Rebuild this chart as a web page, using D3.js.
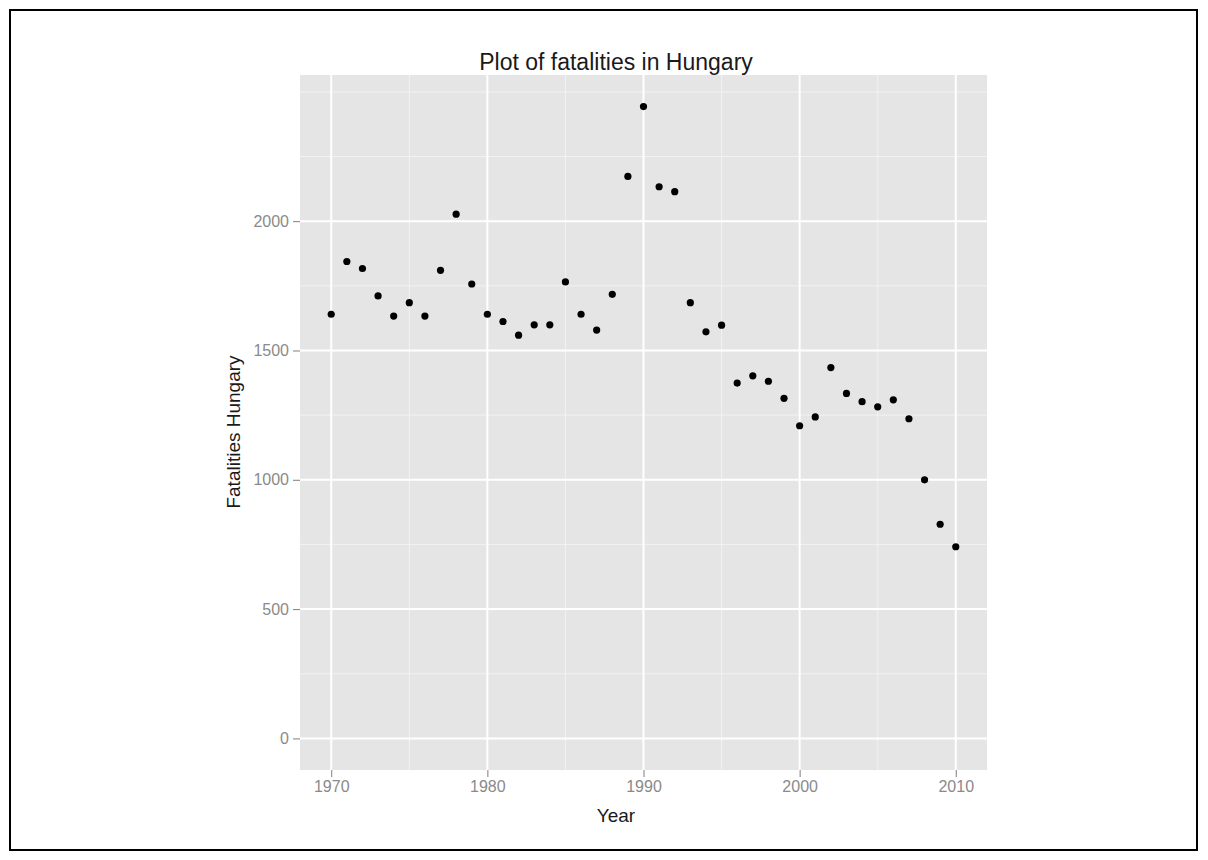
<!DOCTYPE html>
<html>
<head>
<meta charset="utf-8">
<script src="https://cdn.jsdelivr.net/npm/d3@7"></script>
<style>
  body { margin: 0; background: #fff; }
  text { font-family: Arial, "Liberation Sans", sans-serif; }
</style>
</head>
<body>
<div id="chart"></div>
<script>
const years = [1970, 1971, 1972, 1973, 1974, 1975, 1976, 1977, 1978, 1979,
               1980, 1981, 1982, 1983, 1984, 1985, 1986, 1987, 1988, 1989,
               1990, 1991, 1992, 1993, 1994, 1995, 1996, 1997, 1998, 1999,
               2000, 2001, 2002, 2003, 2004, 2005, 2006, 2007, 2008, 2009, 2010]
const fatalities = [1640, 1844, 1817, 1711, 1633, 1685, 1633, 1810, 2027, 1757,
                    1640, 1612, 1559, 1599, 1599, 1765, 1640, 1579, 1717, 2173,
                    2443, 2133, 2114, 1685, 1572, 1598, 1374, 1402, 1381, 1315,
                    1209, 1243, 1434, 1334, 1302, 1282, 1309, 1236, 1000, 828, 741]
const xTicks = [1970, 1980, 1990, 2000, 2010]
const xMinor = [1975, 1985, 1995, 2005]
const yTicks = [0, 500, 1000, 1500, 2000]
const yMinor = [250, 750, 1250, 1750, 2250, 2500]

const width = 1208
const height = 860
const panel = { left: 300, right: 987, top: 75, bottom: 770 }

const svg = d3.select('#chart')
              .append('svg')
              .attr('width', width)
              .attr('height', height)

// outer frame of the screenshot
svg.append('rect')
    .attr('x', 10)
    .attr('y', 10)
    .attr('width', 1187)
    .attr('height', 840)
    .attr('fill', 'none')
    .attr('stroke', '#000')
    .attr('stroke-width', 2)

// ggplot style limits: 0..max, expanded by 5%
const yMax = d3.max(fatalities)
const yPad = yMax * 0.05
const x = d3.scaleLinear().domain([1968, 2012]).range([panel.left, panel.right])
const y = d3.scaleLinear().domain([-yPad, yMax + yPad]).range([panel.bottom, panel.top])

svg.append('rect')
    .attr('x', panel.left)
    .attr('y', panel.top)
    .attr('width', panel.right - panel.left)
    .attr('height', panel.bottom - panel.top)
    .attr('fill', '#e5e5e5')

// minor grid
svg.selectAll('.xminor')
    .data(xMinor)
    .enter()
    .append('line')
    .attr('x1', d => x(d)).attr('x2', d => x(d))
    .attr('y1', panel.top).attr('y2', panel.bottom)
    .attr('stroke', '#f2f2f2')
    .attr('stroke-width', 1)

svg.selectAll('.yminor')
    .data(yMinor)
    .enter()
    .append('line')
    .attr('x1', panel.left).attr('x2', panel.right)
    .attr('y1', d => y(d)).attr('y2', d => y(d))
    .attr('stroke', '#f2f2f2')
    .attr('stroke-width', 1)

// major grid
svg.selectAll('.xmajor')
    .data(xTicks)
    .enter()
    .append('line')
    .attr('x1', d => x(d)).attr('x2', d => x(d))
    .attr('y1', panel.top).attr('y2', panel.bottom)
    .attr('stroke', '#fff')
    .attr('stroke-width', 2)

svg.selectAll('.ymajor')
    .data(yTicks)
    .enter()
    .append('line')
    .attr('x1', panel.left).attr('x2', panel.right)
    .attr('y1', d => y(d)).attr('y2', d => y(d))
    .attr('stroke', '#fff')
    .attr('stroke-width', 2)

// axes
const xAxis = svg.append('g')
    .attr('transform', `translate(0, ${panel.bottom})`)
    .call(d3.axisBottom(x).tickValues(xTicks).tickFormat(d3.format('d')).tickSize(7).tickPadding(4))
const yAxis = svg.append('g')
    .attr('transform', `translate(${panel.left}, 0)`)
    .call(d3.axisLeft(y).tickValues(yTicks).tickFormat(d3.format('d')).tickSize(7).tickPadding(4))

;[xAxis, yAxis].forEach(g => {
    g.select('.domain').remove()
    g.selectAll('.tick line').attr('stroke', '#7f7f7f')
    g.selectAll('.tick text')
        .attr('fill', '#8a8a8a')
        .style('font-size', '16px')
})

// points
svg.selectAll('circle')
    .data(fatalities)
    .enter()
    .append('circle')
    .attr('cx', (_, i) => x(years[i]))
    .attr('cy', d => y(d))
    .attr('r', 3.6)
    .attr('fill', '#000')

svg.append('text')
    .attr('x', 616)
    .attr('y', 70)
    .attr('text-anchor', 'middle')
    .style('font-size', '23px')
    .attr('fill', '#1a1a1a')
    .text('Plot of fatalities in Hungary')

svg.append('text')
    .attr('x', 616)
    .attr('y', 822)
    .attr('text-anchor', 'middle')
    .style('font-size', '19px')
    .attr('fill', '#1a1a1a')
    .text('Year')

svg.append('text')
    .attr('transform', 'translate(240, 432) rotate(-90)')
    .attr('text-anchor', 'middle')
    .style('font-size', '19px')
    .attr('fill', '#1a1a1a')
    .text('Fatalities Hungary')
</script>
</body>
</html>
